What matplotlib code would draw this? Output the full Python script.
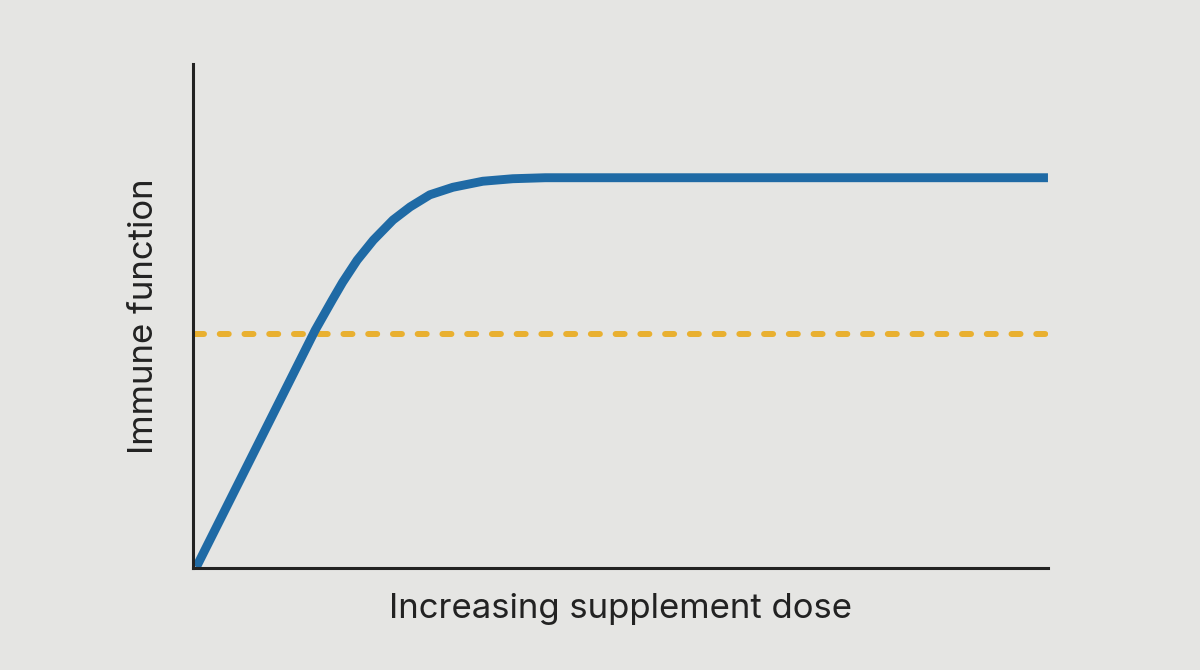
import matplotlib.pyplot as plt

# curve (dose, immune function), axes 0..10
dose = [0.04, 1.43, 1.63, 1.75, 1.92, 2.11, 2.34, 2.54, 2.77, 3.04,
        3.39, 3.74, 4.12, 10.0]
immune = [0.02, 4.73, 5.33, 5.68, 6.12, 6.52, 6.92, 7.18, 7.42, 7.57,
          7.69, 7.74, 7.76, 7.76]

threshold = 4.65
threshold_x = [0.026, 10.0]

bg = '#e5e5e3'
fig = plt.figure(figsize=(12, 6.7), dpi=100, facecolor=bg)
ax = fig.add_axes([0.1608, 0.1522, 0.7125, 0.7522], facecolor=bg)

ax.plot(threshold_x, [threshold, threshold], color='#e9b030', lw=4.3,
        dashes=(1.507, 2.636), dash_capstyle='round')
ax.plot(dose, immune, color='#1f6aa5', lw=6.4, solid_capstyle='butt',
        solid_joinstyle='round')

ax.set_xlim(0, 10)
ax.set_ylim(0, 10.02)
for s in ['top', 'right']:
    ax.spines[s].set_visible(False)
for s in ['left', 'bottom']:
    ax.spines[s].set_linewidth(2.2)
    ax.spines[s].set_color('#222222')
ax.set_xticks([])
ax.set_yticks([])

ax.set_xlabel('Increasing supplement dose', fontsize=25, family='Inter',
              color='#222222', labelpad=18)
ax.set_ylabel('Immune function', fontsize=25, family='Inter',
              color='#222222', labelpad=24)

fig.savefig('out.png', dpi=100, facecolor=bg)
